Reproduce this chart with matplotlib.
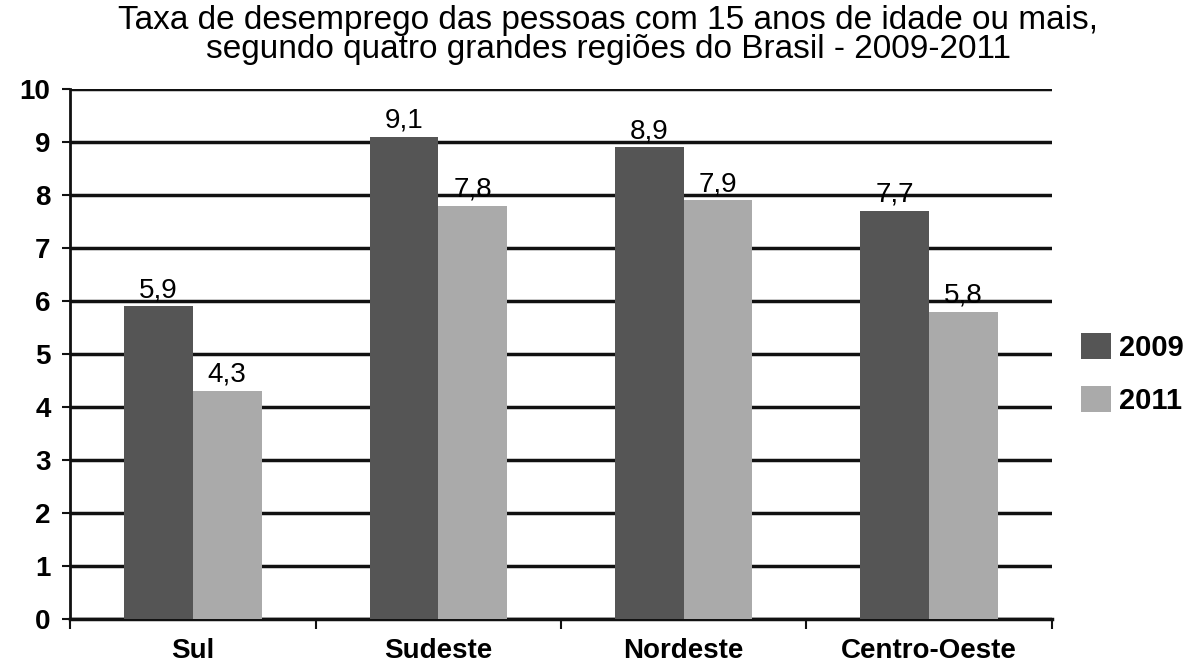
import numpy as np
import matplotlib.pyplot as plt

plt.rcParams['font.family'] = ['Liberation Sans', 'DejaVu Sans']

regioes = ['Sul', 'Sudeste', 'Nordeste', 'Centro-Oeste']
taxa_2009 = [5.9, 9.1, 8.9, 7.7]
taxa_2011 = [4.3, 7.8, 7.9, 5.8]
anos = ['2009', '2011']
cores = ['#555555', '#aaaaaa']

fig = plt.figure(figsize=(11.95, 6.68), dpi=100)
ax = fig.add_axes([0.0586, 0.0734, 0.8217, 0.7934])

x = np.arange(len(regioes))
w = 0.28
b1 = ax.bar(x - w / 2, taxa_2009, width=w, color=cores[0], label=anos[0], zorder=3)
b2 = ax.bar(x + w / 2, taxa_2011, width=w, color=cores[1], label=anos[1], zorder=3)

for bars, vals in [(b1, taxa_2009), (b2, taxa_2011)]:
    for r, v in zip(bars, vals):
        ax.text(r.get_x() + r.get_width() / 2, v + 0.06, f'{v:.1f}'.replace('.', ','),
                ha='center', va='bottom', fontsize=20, zorder=4)

ax.set_xlim(-0.5, 3.5)
ax.set_ylim(0, 10)
ax.set_yticks(range(0, 11))
ax.yaxis.grid(True, color='#111111', linewidth=2.5, zorder=0)
ax.set_xticks(x)
ax.set_xticklabels(regioes, fontsize=20, fontweight='bold')
ax.set_xticks(np.arange(-0.5, 4, 1), minor=True)
ax.tick_params(axis='x', which='major', length=0, pad=14)
ax.tick_params(axis='x', which='minor', length=7, width=1.5, color='#111111')
ax.tick_params(axis='y', length=6, width=1.5, color='#111111', labelsize=20, pad=8)
for lbl in ax.get_yticklabels():
    lbl.set_fontweight('bold')

for s in ['top', 'right']:
    ax.spines[s].set_visible(False)
ax.spines['left'].set_linewidth(2)
ax.spines['bottom'].set_linewidth(2.5)
ax.spines['left'].set_color('#111111')
ax.spines['bottom'].set_color('#111111')

fig.suptitle('Taxa de desemprego das pessoas com 15 anos de idade ou mais,\n'
             'segundo quatro grandes regiões do Brasil - 2009-2011',
             x=0.509, y=0.993, fontsize=24, linespacing=0.92)

ax.legend(loc='center left', bbox_to_anchor=(0.905, 0.44), bbox_transform=fig.transFigure,
          frameon=False, prop={'weight': 'bold', 'size': 21},
          handlelength=1.0, handleheight=1.0, handletextpad=0.3, labelspacing=0.8,
          borderpad=0, borderaxespad=0)

fig.savefig('out.png', dpi=100)
